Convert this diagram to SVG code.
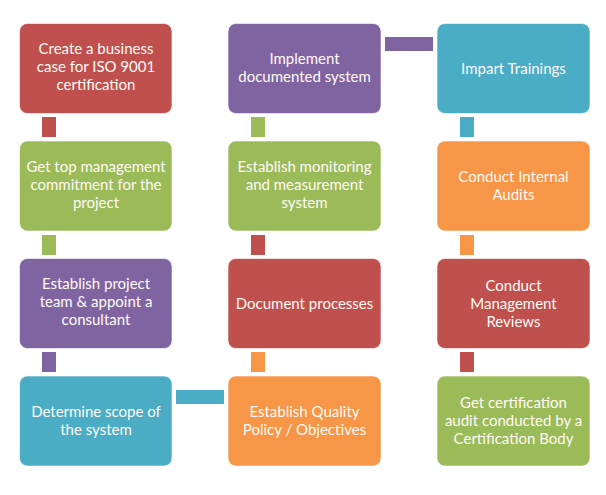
<svg xmlns="http://www.w3.org/2000/svg" width="606" height="495" viewBox="0 0 606 495">
<style>
.box{stroke:#ffffff;stroke-opacity:0.6;stroke-width:1}
.red{fill:#C0504D}.green{fill:#9BBB59}.purple{fill:#8064A2}.teal{fill:#4BACC6}.orange{fill:#F79646}
text{font-family:Lato,"Liberation Sans",sans-serif;font-size:15px;fill:#FFFAF4;text-anchor:middle}
</style>
<rect width="606" height="495" fill="#ffffff"/>
<g id="connectors">
<rect class="red" x="42" y="117" width="14" height="20"/>
<rect class="green" x="42" y="235" width="14" height="20"/>
<rect class="purple" x="42" y="352" width="14" height="20"/>
<rect class="teal" x="176" y="390" width="48" height="14"/>
<rect class="orange" x="251" y="352" width="14" height="20"/>
<rect class="red" x="251" y="235" width="14" height="20"/>
<rect class="green" x="251" y="117" width="14" height="20"/>
<rect class="purple" x="385" y="37" width="48" height="14"/>
<rect class="teal" x="460" y="117" width="14" height="20"/>
<rect class="orange" x="460" y="235" width="14" height="20"/>
<rect class="red" x="460" y="352" width="14" height="20"/>
</g>
<g id="n1"><rect class="box red" x="19.5" y="23.5" width="152.5" height="90" rx="8"/>
<text x="96" y="54">Create a business</text><text x="96" y="72">case for ISO 9001</text><text x="96" y="90">certification</text></g>
<g id="n2"><rect class="box green" x="19.5" y="141" width="152.5" height="90" rx="8"/>
<text x="96" y="172">Get top management</text><text x="96" y="190">commitment for the</text><text x="96" y="208">project</text></g>
<g id="n3"><rect class="box purple" x="19.5" y="258.5" width="152.5" height="90" rx="8"/>
<text x="96" y="289">Establish project</text><text x="96" y="307">team &amp; appoint a</text><text x="96" y="325">consultant</text></g>
<g id="n4"><rect class="box teal" x="19.5" y="376" width="152.5" height="90" rx="8"/>
<text x="96" y="417">Determine scope of</text><text x="96" y="435">the system</text></g>
<g id="n5"><rect class="box orange" x="228" y="376" width="153" height="90" rx="8"/>
<text x="304.5" y="417">Establish Quality</text><text x="304.5" y="435">Policy / Objectives</text></g>
<g id="n6"><rect class="box red" x="228" y="258.5" width="153" height="90" rx="8"/>
<text x="304.5" y="309">Document processes</text></g>
<g id="n7"><rect class="box green" x="228" y="141" width="153" height="90" rx="8"/>
<text x="304.5" y="172">Establish monitoring</text><text x="304.5" y="190">and measurement</text><text x="304.5" y="208">system</text></g>
<g id="n8"><rect class="box purple" x="228" y="23.5" width="153" height="90" rx="8"/>
<text x="304.5" y="64">Implement</text><text x="304.5" y="82">documented system</text></g>
<g id="n9"><rect class="box teal" x="437" y="23.5" width="153" height="90" rx="8"/>
<text x="513.5" y="74">Impart Trainings</text></g>
<g id="n10"><rect class="box orange" x="437" y="141" width="153" height="90" rx="8"/>
<text x="513.5" y="182">Conduct Internal</text><text x="513.5" y="200">Audits</text></g>
<g id="n11"><rect class="box red" x="437" y="258.5" width="153" height="90" rx="8"/>
<text x="513.5" y="291">Conduct</text><text x="513.5" y="309">Management</text><text x="513.5" y="327">Reviews</text></g>
<g id="n12"><rect class="box green" x="437" y="376" width="153" height="90" rx="8"/>
<text x="513.5" y="408">Get certification</text><text x="513.5" y="426">audit conducted by a</text><text x="513.5" y="444">Certification Body</text></g>
</svg>
